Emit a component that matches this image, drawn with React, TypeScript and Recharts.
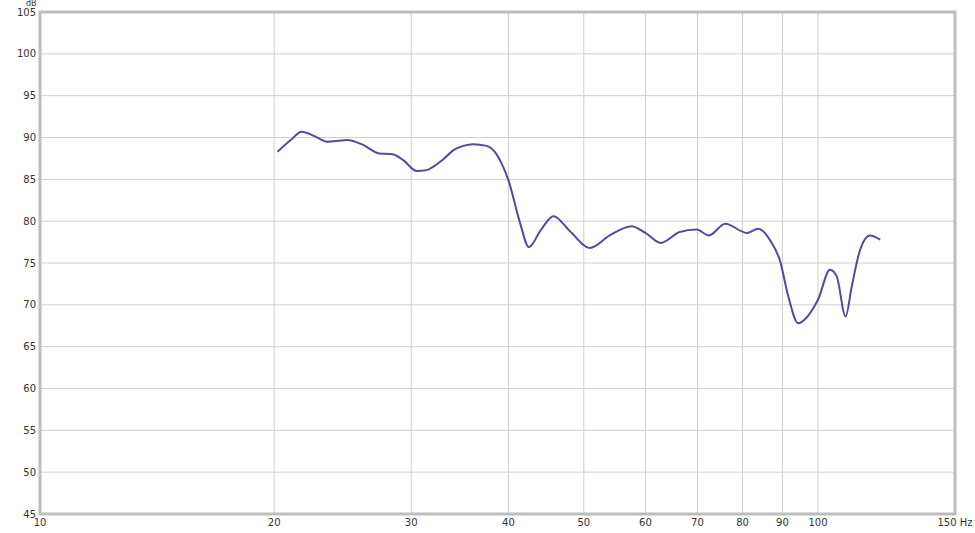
import React from 'react';
import { LineChart, Line, XAxis, YAxis, CartesianGrid, ReferenceArea } from 'recharts';

const freqs = [
  20.2, 21.0, 21.7, 22.5, 23.4, 24.2, 24.8, 25.9, 27.3, 28.4, 29.3, 30.5, 31.4, 32.0,
  33.0, 34.0, 35.0, 36.0, 37.5, 38.4, 39.2, 40.0, 41.4, 42.5, 44.0, 45.7, 48.0, 50.9, 54.0,
  57.6, 60.0, 62.8, 66.4, 69.8, 72.4, 76.0, 81.0, 83.8, 86.8, 89.4, 91.6, 94.3, 96.5,
  98.6, 100.0, 103.6, 105.7, 108.5, 110.5, 113.2, 116.6, 120.2,
];

const levels = [
  88.3, 89.7, 90.7, 90.2, 89.5, 89.6, 89.7, 89.2, 88.1, 88.0, 87.3, 86.0, 86.1, 86.5,
  87.4, 88.5, 89.0, 89.2, 89.0, 88.3, 86.9, 84.9, 79.8, 76.9, 78.9, 80.6, 78.8, 76.8, 78.3,
  79.4, 78.6, 77.4, 78.7, 79.0, 78.3, 79.7, 78.6, 79.1, 77.7, 75.2, 71.0, 67.8, 68.4,
  69.6, 70.6, 74.2, 73.4, 68.6, 72.2, 76.5, 78.3, 77.8,
];

const xTicks = [10, 20, 30, 40, 50, 60, 70, 80, 90, 100, 150];
const yTicks = [45, 50, 55, 60, 65, 70, 75, 80, 85, 90, 95, 100, 105];

const data = freqs.map((f, i) => ({ f, db: levels[i] }));

const font = '"DejaVu Sans", sans-serif';

export default function App() {
  return (
    <div style={{ position: 'absolute', left: 0, top: 0, width: 975, height: 533, background: '#fff', fontFamily: font }}>
      <LineChart width={975} height={533} data={data} margin={{ top: 12, right: 20, left: 0, bottom: 0 }}>
        <CartesianGrid stroke="#cfcfcf" strokeWidth={1} />
        <XAxis
          dataKey="f"
          type="number"
          scale="log"
          domain={[10, 150]}
          ticks={xTicks}
          allowDataOverflow
          height={19}
          axisLine={false}
          tickLine={false}
          tickSize={4}
          tickMargin={1}
          interval={0}
          tickFormatter={(v: number) => (v === 150 ? '150 Hz' : String(v))}
          tick={{ fontSize: 10, fill: '#333', fontFamily: font }}
        />
        <YAxis
          type="number"
          domain={[45, 105]}
          ticks={yTicks}
          width={40}
          axisLine={false}
          tickLine={false}
          tickSize={4}
          tickMargin={0}
          interval={0}
          tick={{ fontSize: 10, fill: '#333', fontFamily: font }}
        />
        <ReferenceArea x1={10} x2={150} y1={45} y2={105} fill="none" stroke="#bdbdbd" strokeWidth={3} />
        <Line
          type="monotone"
          dataKey="db"
          stroke="#4d4d9f"
          strokeWidth={2}
          dot={false}
          isAnimationActive={false}
        />
      </LineChart>
      <span style={{ position: 'absolute', left: 26, top: 0, fontSize: 8, lineHeight: '7px', color: '#333' }}>dB</span>
    </div>
  );
}
